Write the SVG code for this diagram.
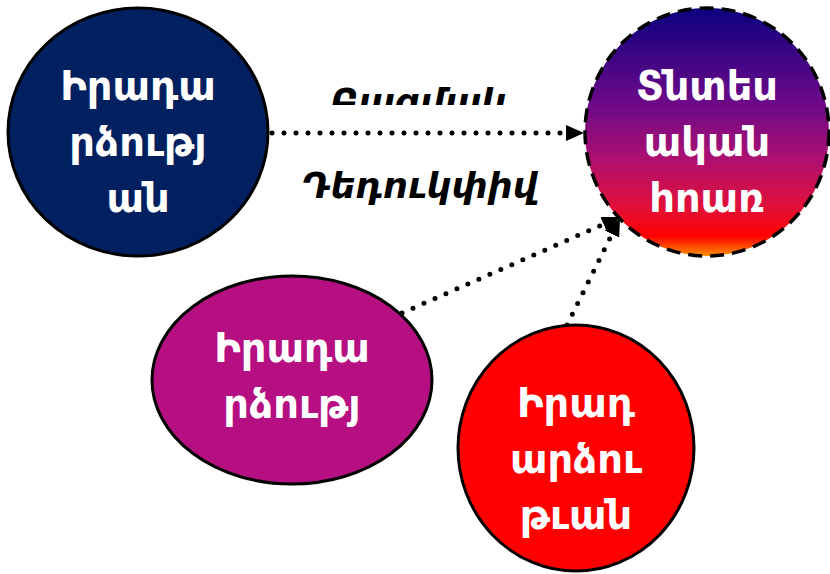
<svg xmlns="http://www.w3.org/2000/svg" width="830" height="574" viewBox="0 0 830 574">
<defs>
<linearGradient id="g2" x1="0" y1="0" x2="0" y2="1">
<stop offset="0" stop-color="#0c0080"/>
<stop offset="0.4" stop-color="#700a88"/>
<stop offset="0.62" stop-color="#b0106e"/>
<stop offset="0.8" stop-color="#e0103a"/>
<stop offset="0.92" stop-color="#ff0000"/>
<stop offset="1" stop-color="#ff9000"/>
</linearGradient>
<marker id="arr" markerUnits="userSpaceOnUse" markerWidth="20" markerHeight="16" refX="18" refY="8" orient="auto">
<path d="M0,0 L18,8 L0,16 Z" fill="#000"/>
</marker>
<clipPath id="c1"><rect x="280" y="60" width="300" height="45"/></clipPath>
</defs>
<style>
.node{stroke:#000;stroke-width:3}
.nt{font-family:"DejaVu Sans",sans-serif;font-weight:bold;font-size:40px;fill:#fff;text-anchor:middle}
.lab{font-family:"DejaVu Sans",sans-serif;font-weight:bold;font-style:italic;font-size:35px;fill:#000}
.con{fill:none;stroke:#000;stroke-width:5;stroke-linecap:round;stroke-dasharray:0 12}
</style>
<g id="connectors">
<line class="con" x1="272" y1="133" x2="584" y2="133" marker-end="url(#arr)"/>
<line class="con" x1="402" y1="313" x2="620" y2="217" marker-end="url(#arr)"/>
<line class="con" x1="567" y1="325" x2="620" y2="218" marker-end="url(#arr)"/>
</g>
<g id="label">
<text class="lab" x="330" y="114" clip-path="url(#c1)">Բազմակ</text>
<text class="lab" x="302" y="198">Դեդուկփիվ</text>
</g>
<g id="n1">
<ellipse class="node" cx="138" cy="132" rx="130" ry="124" fill="#002060"/>
<text class="nt" x="138" y="100">Իրադա</text>
<text class="nt" x="138" y="156">րձությ</text>
<text class="nt" x="138" y="212">ան</text>
</g>
<g id="n2">
<ellipse cx="707" cy="132" rx="122" ry="124" fill="url(#g2)" stroke="#000" stroke-width="3.5" stroke-dasharray="14 8"/>
<text class="nt" x="707" y="100">Տնտես</text>
<text class="nt" x="707" y="156">ական</text>
<text class="nt" x="707" y="212">հոառ</text>
</g>
<g id="n3">
<ellipse class="node" cx="292" cy="380" rx="140" ry="104" fill="#b50f82"/>
<text class="nt" x="292" y="362">Իրադա</text>
<text class="nt" x="292" y="418">րձությ</text>
</g>
<g id="n4">
<ellipse class="node" cx="576" cy="448" rx="118" ry="123" fill="#ff0000"/>
<text class="nt" x="576" y="417">Իրադ</text>
<text class="nt" x="576" y="473">արձու</text>
<text class="nt" x="576" y="529">թւան</text>
</g>
</svg>
